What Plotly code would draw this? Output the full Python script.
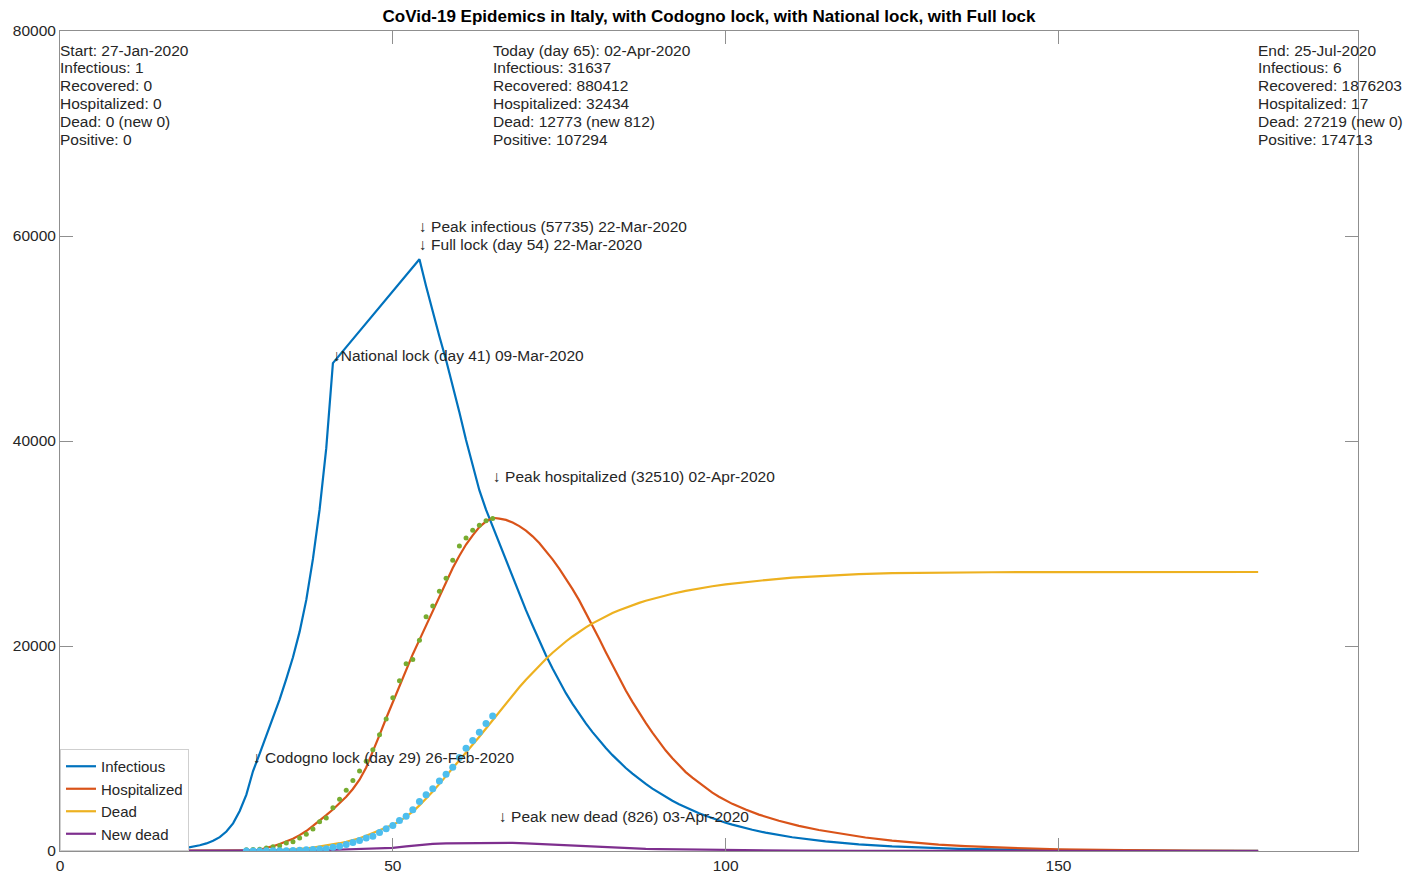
import plotly.graph_objects as go

# ---------------- model curves (day index -> count) ----------------
inf_days = [0, 2, 4, 6, 8, 10, 12, 14] + list(range(15, 103)) + [104, 106, 108, 110, 115, 120, 125, 130, 135, 140, 150, 160, 170, 180]
infectious = [1, 2, 3, 6, 11, 20, 37, 68,
              90, 125, 170, 230, 310, 410, 560, 740, 1000, 1350,
              1900, 2700, 3900, 5500, 7800, 9500, 11200, 12900, 14800, 16800,
              18900, 21400, 24500, 28500, 33300, 39300, 47600, 48380, 49160, 49940,
              50720, 51500, 52280, 53060, 53840, 54620, 55400, 56180, 56960, 57735,
              55100, 52600, 50200, 47900, 45400, 42800, 40100, 37500, 35200, 33300,
              31637, 30000, 28300, 26700, 25100, 23500, 22000, 20500, 19100, 17800,
              16550, 15400, 14350, 13350, 12450, 11600, 10800, 10050, 9350, 8700,
              8100, 7550, 7030, 6540, 6090, 5670, 5280, 4910, 4570, 4250,
              3960, 3680, 3430, 3190, 2970, 2760, 2570, 2390,
              2070, 1790, 1550, 1340, 940, 650, 450, 310, 215, 150, 72, 35, 15, 6]

hosp_days = [0, 28] + list(range(29, 102)) + [103, 105, 108, 111, 114, 118, 121, 125, 128, 132, 136, 140, 145, 150, 155, 160, 170, 180]
hospitalized = [0, 0,
                30, 120, 280, 470, 680, 920, 1200, 1550, 1950, 2450,
                2950, 3500, 4050, 4650, 5300, 6050, 6950, 8150, 9650, 11300,
                12950, 14550, 16150, 17700, 19200, 20600, 22000, 23400, 24800, 26200,
                27600, 28800, 29900, 30800, 31600, 32150, 32510, 32434, 32300, 32050,
                31700, 31250, 30700, 30050, 29300, 28450, 27550, 26600, 25550, 24450,
                23250, 22000, 20700, 19400, 18100, 16850, 15650, 14550, 13500, 12500,
                11550, 10650, 9800, 9050, 8350, 7700, 7150, 6650, 6150, 5700,
                5300, 4930, 4600,
                4050, 3550, 2950, 2450, 2050, 1600, 1320, 1020, 830, 630, 480, 360, 250, 170, 115, 80, 38, 17]

dead_days = [0, 28] + list(range(29, 91)) + [92, 94, 96, 98, 100, 103, 106, 110, 115, 120, 125, 130, 140, 150, 160, 170, 180]
dead = [0, 0,
        15, 30, 45, 65, 90, 120, 160, 210, 270, 340,
        430, 540, 640, 760, 900, 1060, 1250, 1480, 1740, 2000,
        2250, 2550, 2900, 3350, 3850, 4450, 5100, 5800, 6550, 7300,
        8050, 8800, 9600, 10400, 11150, 11950, 12773, 13599, 14410, 15200,
        15970, 16710, 17420, 18100, 18740, 19340, 19910, 20440, 20930, 21390,
        21820, 22210, 22570, 22900, 23210, 23490, 23750, 23990, 24210, 24410,
        24600, 24780,
        25100, 25380, 25620, 25830, 26010, 26240, 26430, 26680, 26880, 27010, 27100, 27150, 27195, 27205, 27214, 27218, 27219]

new_dead_days = [0, 28, 30, 32, 34, 36, 38, 40, 42, 44, 46, 48, 50, 52, 54, 56, 58, 60, 62, 64, 65, 66, 67, 68,
                 70, 72, 74, 76, 78, 80, 82, 84, 86, 88, 90, 95, 100, 110, 120, 130, 140, 160, 180]
new_dead = [0, 0, 10, 20, 30, 50, 70, 100, 130, 170, 230, 260, 300, 450, 600, 700, 750, 760, 790, 805, 812, 826, 811, 790,
            740, 680, 600, 530, 460, 390, 330, 280, 240, 200, 180, 130, 90, 45, 22, 10, 5, 1, 0]

# ---------------- observed data points ----------------
obs_days = list(range(28, 66))
obs_hospitalized = [130, 150, 160, 300, 410, 510, 780, 910, 1260, 1640,
                    2140, 2860, 3220, 4210, 5050, 5920, 6870, 7800, 8750, 9890,
                    11340, 12880, 14950, 16620, 18260, 18680, 20570, 22860, 23900, 25330,
                    26600, 28370, 29760, 30530, 31290, 31780, 32220, 32440]
obs_dead = [10, 10, 10, 20, 20, 30, 30, 50, 80, 110,
            150, 200, 230, 370, 460, 630, 830, 1020, 1270, 1440,
            1810, 2160, 2500, 2980, 3400, 4030, 4830, 5480, 6080, 6820,
            7500, 8170, 9130, 10020, 10780, 11590, 12430, 13160]

# ---------------- text content ----------------
title_text = "CoVid-19 Epidemics in Italy, with Codogno lock, with National lock, with Full lock"
start_lines = ["Start: 27-Jan-2020", "Infectious: 1", "Recovered: 0", "Hospitalized: 0",
               "Dead: 0 (new 0)", "Positive: 0"]
today_lines = ["Today (day 65): 02-Apr-2020", "Infectious: 31637", "Recovered: 880412",
               "Hospitalized: 32434", "Dead: 12773 (new 812)", "Positive: 107294"]
end_lines = ["End: 25-Jul-2020", "Infectious: 6", "Recovered: 1876203", "Hospitalized: 17",
             "Dead: 27219 (new 0)", "Positive: 174713"]
x_ticks = [0, 50, 100, 150]
y_ticks = [0, 20000, 40000, 60000, 80000]

BLUE, ORANGE, YELLOW, PURPLE = "#0072BD", "#D95319", "#EDB120", "#7E2F8E"
GREEN, CYAN = "#77AC30", "#4DBEEE"
FONT = "Liberation Sans, Arial, sans-serif"
TXT = "#262626"
AX = "#8f8f8f"

fig = go.Figure()
fig.add_trace(go.Scatter(x=inf_days, y=infectious, mode="lines", name="Infectious",
                         line=dict(color=BLUE, width=2.2)))
fig.add_trace(go.Scatter(x=hosp_days, y=hospitalized, mode="lines", name="Hospitalized",
                         line=dict(color=ORANGE, width=2.2)))
fig.add_trace(go.Scatter(x=dead_days, y=dead, mode="lines", name="Dead",
                         line=dict(color=YELLOW, width=2.2)))
fig.add_trace(go.Scatter(x=new_dead_days, y=new_dead, mode="lines", name="New dead",
                         line=dict(color=PURPLE, width=2.2)))
fig.add_trace(go.Scatter(x=obs_days, y=obs_hospitalized, mode="markers", showlegend=False,
                         marker=dict(color=GREEN, size=5, line=dict(width=0))))
fig.add_trace(go.Scatter(x=obs_days, y=obs_dead, mode="markers", showlegend=False,
                         marker=dict(color=CYAN, size=7, line=dict(width=0))))

annotations = []
# info blocks at start / today / end
for day, lines in ((0, start_lines), (65, today_lines), (180, end_lines)):
    for i, line in enumerate(lines):
        annotations.append(dict(x=day, xref="x", y=1, yref="paper", text=line, showarrow=False,
                                xanchor="left", yanchor="middle", yshift=-19 - 17.9 * i, xshift=-2,
                                font=dict(family=FONT, size=15.5, color=TXT)))

# event labels
peak_inf = max(infectious)
peak_inf_day = inf_days[infectious.index(peak_inf)]
peak_hosp = max(hospitalized)
peak_hosp_day = hosp_days[hospitalized.index(peak_hosp)]
peak_nd = max(new_dead)
peak_nd_day = new_dead_days[new_dead.index(peak_nd)]

def inf_at(d):
    return infectious[inf_days.index(d)]

events = [
    (29, inf_at(29), "↓ Codogno lock (day 29) 26-Feb-2020", 14),
    (41, inf_at(41), "↓National lock (day 41) 09-Mar-2020", 8),
    (54, inf_at(54), "↓ Full lock (day 54) 22-Mar-2020", 15),
    (peak_inf_day, peak_inf, f"↓ Peak infectious ({peak_inf}) 22-Mar-2020", 33),
    (peak_hosp_day, peak_hosp, f"↓ Peak hospitalized ({peak_hosp}) 02-Apr-2020", 41),
    (peak_nd_day, peak_nd, f"↓ Peak new dead ({peak_nd}) 03-Apr-2020", 26),
]
for d, v, text, dy in events:
    annotations.append(dict(x=d, y=v, xref="x", yref="y", text=text, showarrow=False,
                            xanchor="left", yanchor="middle", yshift=dy, xshift=-2,
                            font=dict(family=FONT, size=15.5, color=TXT)))

fig.update_layout(
    width=1421, height=873,
    margin=dict(l=60, r=63, t=31, b=22),
    paper_bgcolor="white", plot_bgcolor="white",
    title=dict(text=f"<b>{title_text}</b>", x=0.5, xref="paper", xanchor="center",
               y=1 - 16 / 873, yref="container", yanchor="middle",
               font=dict(family=FONT, size=17, color="#000000")),
    font=dict(family=FONT, size=15.5, color=TXT),
    showlegend=True,
    legend=dict(x=0, y=0, xanchor="left", yanchor="bottom", bgcolor="white",
                bordercolor="#cfcfcf", borderwidth=1, itemwidth=30, tracegroupgap=0,
                font=dict(family=FONT, size=15, color=TXT)),
    annotations=annotations,
)
fig.update_xaxes(range=[0, 195], tickvals=x_ticks, ticks="inside", ticklen=13, tickcolor=AX,
                 showline=True, linecolor=AX, linewidth=1, mirror="ticks", automargin=False,
                 showgrid=False, zeroline=False, tickfont=dict(family=FONT, size=15.5, color=TXT))
fig.update_yaxes(range=[0, 80000], tickvals=y_ticks, tickformat="d", ticks="inside", ticklen=13,
                 tickcolor=AX, showline=True, linecolor=AX, linewidth=1, mirror="ticks", automargin=False,
                 showgrid=False, zeroline=False, tickfont=dict(family=FONT, size=15.5, color=TXT))

fig.write_html("out.html")
